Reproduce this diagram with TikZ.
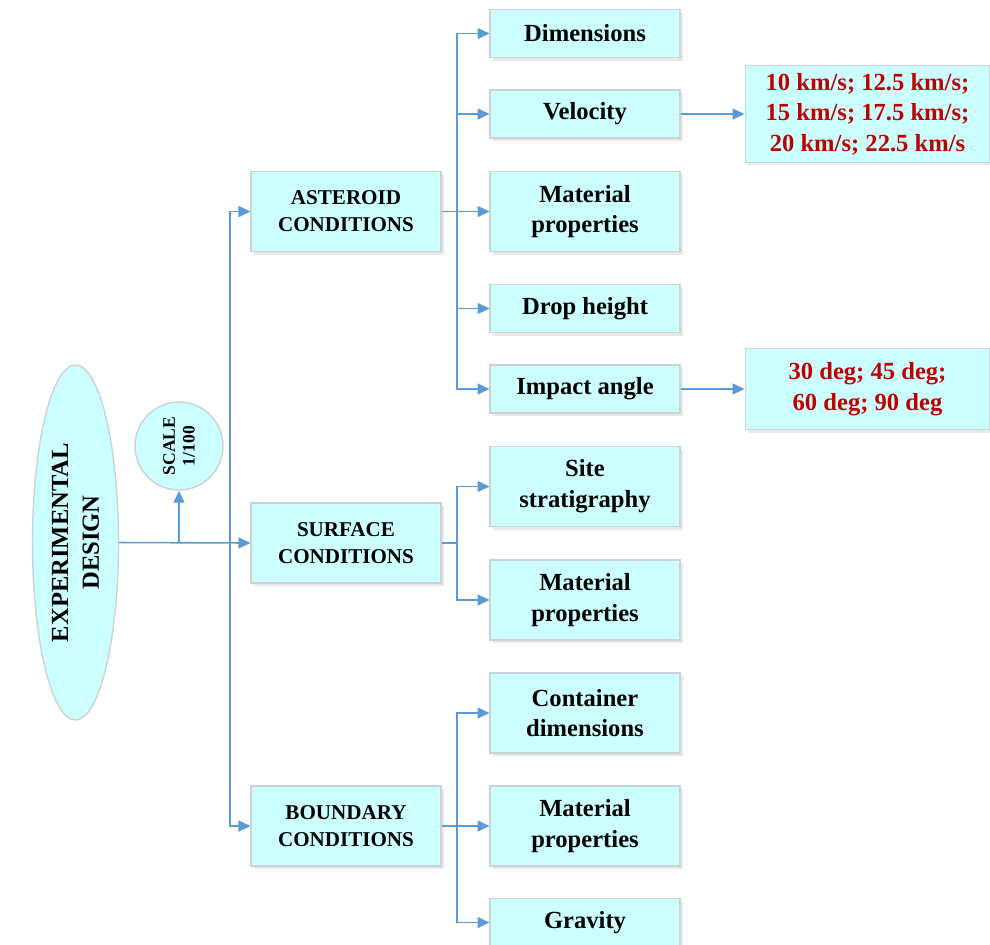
\documentclass[tikz,border=0pt]{standalone}
\usepackage{fontspec}
\setmainfont{Liberation Serif}
\usetikzlibrary{arrows.meta,shapes.geometric,shadows}
\definecolor{cBox}{HTML}{CCFFFF}
\definecolor{cEdge}{HTML}{C9D3D6}
\definecolor{cLink}{HTML}{5B9BD5}
\definecolor{cValue}{HTML}{C00000}

\begin{document}
\begin{tikzpicture}[
    x=0.02cm, y=-0.02cm,
    font=\bfseries\fontsize{14}{17.5}\selectfont,
    box/.style={draw=cEdge, fill=cBox, line width=0.6pt, align=center, inner sep=0pt,
        minimum width=3.8cm, drop shadow={opacity=0.18, shadow xshift=0.6mm, shadow yshift=-0.6mm}},
    cond/.style={box, minimum height=1.6cm, font=\bfseries\fontsize{12}{15.3}\selectfont},
    item/.style={box, minimum height=0.96cm},
    item2/.style={box, minimum height=1.6cm},
    value/.style={box, minimum width=4.9cm, text=cValue, font=\bfseries\fontsize{14}{17.3}\selectfont},
    arr/.style={-{Triangle[length=2.4mm, width=2.2mm]}, line width=0.9pt, draw=cLink},
    link/.style={line width=0.9pt, draw=cLink}
]
\useasboundingbox (0,0) rectangle (990,944);

% root and scale
\node[draw=cEdge, fill=cBox, ellipse, rotate=90, inner sep=0pt, minimum width=7.1cm, minimum height=1.72cm,
    line width=0.8pt, align=center] (exp) at (75.5,542.5) {EXPERIMENTAL\\DESIGN};
\node[draw=cEdge, fill=cBox, circle, rotate=90, inner sep=0pt, minimum size=1.76cm, align=center,
    line width=0.8pt, font=\bfseries\fontsize{10}{11.3}\selectfont] (scale) at (179,446) {SCALE\\1/100};

% conditions
\node[cond] (ast) at (346,211.5) {ASTEROID\\CONDITIONS};
\node[cond] (surf) at (346,543) {SURFACE\\CONDITIONS};
\node[cond] (bnd) at (346,826) {BOUNDARY\\CONDITIONS};

% asteroid items
\node[item] (dim) at (585,33.5) {Dimensions};
\node[item] (vel) at (585,114) {Velocity};
\node[item2] (mat1) at (585,211.5) {Material\\properties};
\node[item] (drop) at (585,308.5) {Drop height};
\node[item] (imp) at (585,389) {Impact angle};

% surface items
\node[item2] (site) at (585,486.5) {Site\\stratigraphy};
\node[item2] (mat2) at (585,600) {Material\\properties};

% boundary items
\node[item2] (cont) at (585,713) {Container\\dimensions};
\node[item2] (mat3) at (585,826) {Material\\properties};
\node[item] (grav) at (585,922.5) {Gravity};

% values
\node[value, minimum height=1.94cm] (velv) at (867.5,114) {10 km/s; 12.5 km/s;\\15 km/s; 17.5 km/s;\\20 km/s; 22.5 km/s};
\node[value, minimum height=1.62cm] (impv) at (867.5,389) {30 deg; 45 deg;\\60 deg; 90 deg};

% trunk
\coordinate (trunk) at (230,543);
\coordinate (sc) at (179,543);
\draw[arr] (exp.south) -- (surf.west);
\draw[arr] (sc) -- (scale.west);
\draw[arr] (trunk) |- (ast.west);
\draw[arr] (trunk) |- (bnd.west);

% branches
\coordinate (abr) at (457,211.5);
\coordinate (sbr) at (457,543);
\coordinate (bbr) at (457,826);
\draw[link] (ast.east) -- (abr);
\draw[link] (surf.east) -- (sbr);
\draw[link] (bnd.east) -- (bbr);
\foreach \n in {dim,vel,mat1,drop,imp} \draw[arr] (abr) |- (\n.west);
\foreach \n in {site,mat2} \draw[arr] (sbr) |- (\n.west);
\foreach \n in {cont,mat3,grav} \draw[arr] (bbr) |- (\n.west);

\draw[arr] (vel.east) -- (velv.west);
\draw[arr] (imp.east) -- (impv.west);

\end{tikzpicture}
\end{document}
